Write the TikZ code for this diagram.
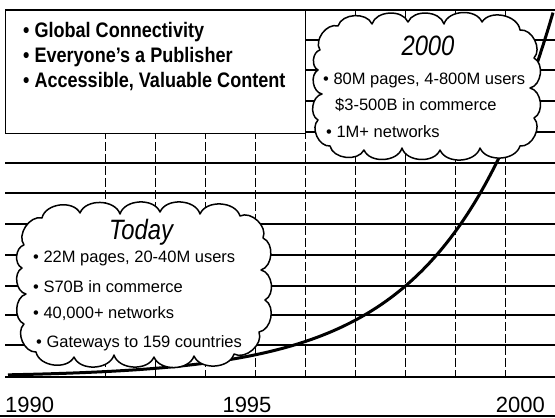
\documentclass[tikz,border=0pt]{standalone}
\usepackage{fontspec}
\setmainfont{Liberation Sans}
\newfontfamily\boxfont{Liberation Sans}[FakeStretch=0.86]
\newfontfamily\cloudfont{Liberation Sans}
\newfontfamily\titlefont{Liberation Sans}[FakeStretch=0.85]
\begin{document}
\begin{tikzpicture}[x=1pt,y=-1pt,
 gridh/.style={line width=1.3pt},
 gridv/.style={line width=0.9pt, dash pattern=on 9pt off 3pt},
 puff/.style={draw, fill=white, line width=1.5pt, line join=round},
 bump/.style={bend left=70},
 boxtext/.style={anchor=west, font=\boxfont\bfseries\fontsize{21}{24}\selectfont, inner sep=0pt},
 cloudtext/.style={anchor=west, font=\cloudfont\fontsize{16.5}{19}\selectfont, inner sep=0pt},
 titletext/.style={font=\titlefont\itshape\fontsize{28}{30}\selectfont, inner sep=0pt},
 yeartext/.style={font=\fontsize{22}{24}\selectfont, inner sep=0pt},
 growth/.style={line width=3pt}]
\useasboundingbox (0,0) rectangle (555,418);
% grid
\foreach \y in {10,40,70,101,132,163,193,224,255,286,315,345,377}
  \draw[gridh] (5,\y) -- (555,\y);
\foreach \x in {105,155,...,505}
  \draw[gridv] (\x,10) -- (\x,377);
% growth curve
\draw[growth] plot[domain=8:553, samples=120, smooth] (\x, {377-28*exp(0.0094*(\x-280))});
% top box
\node[draw, fill=white, line width=1.3pt, minimum width=300pt, minimum height=123pt, anchor=north west, inner sep=0pt] (box) at (5,10) {};
\node[boxtext] (g1) at (23,32) {• Global Connectivity};
\node[boxtext] (g2) at (23,57) {• Everyone’s a Publisher};
\node[boxtext] (g3) at (23,82) {• Accessible, Valuable Content};
% Today cloud
\draw[puff] (24,245) to[bump] (42,218) to[bump] (80,213) to[bump] (120,214)
  to[bump] (160,212) to[bump] (200,214) to[bump] (240,216) to[bump] (263,238)
  to[bump] (261,270) to[bump] (265,300) to[bump] (259,332) to[bump] (234,354)
  to[bump] (194,356) to[bump] (154,357) to[bump] (114,355) to[bump] (74,357)
  to[bump] (36,352) to[bump] (24,324) to[bump] (26,294) to[bump] (22,268)
  to[bump] (24,245) -- cycle;
% 2000 cloud
\draw[puff] (320,50) to[bump] (338,26) to[bump] (372,24) to[bump] (408,22)
  to[bump] (444,24) to[bump] (482,22) to[bump] (520,30) to[bump] (534,58)
  to[bump] (530,88) to[bump] (534,118) to[bump] (520,146) to[bump] (480,148)
  to[bump] (440,150) to[bump] (402,148) to[bump] (364,150) to[bump] (330,146)
  to[bump] (318,120) to[bump] (322,94) to[bump] (318,70) to[bump] (320,50) -- cycle;
% today text
\node[titletext] (todaytitle) at (141,232) {Today};
\node[cloudtext] (t1) at (33,258) {• 22M pages, 20-40M users};
\node[cloudtext] (t2) at (33,287) {• S70B in commerce};
\node[cloudtext] (t3) at (33,314) {• 40,000+ networks};
\node[cloudtext] (t4) at (36,343) {• Gateways to 159 countries};
% 2000 text
\node[titletext] (futuretitle) at (428,46) {2000};
\node[cloudtext] (u1) at (323,80) {• 80M pages, 4-800M users};
\node[cloudtext] (u2) at (335,105) {\$3-500B in commerce};
\node[cloudtext] (u3) at (326,132) {• 1M+ networks};
% axis labels
\node[yeartext, anchor=base west] (y90) at (5,412) {1990};
\node[yeartext, anchor=base] (y95) at (247,412) {1995};
\node[yeartext, anchor=base east] (y00) at (545,412) {2000};
\draw[line width=2.5pt] (0,416) -- (555,416);
\end{tikzpicture}
\end{document}
